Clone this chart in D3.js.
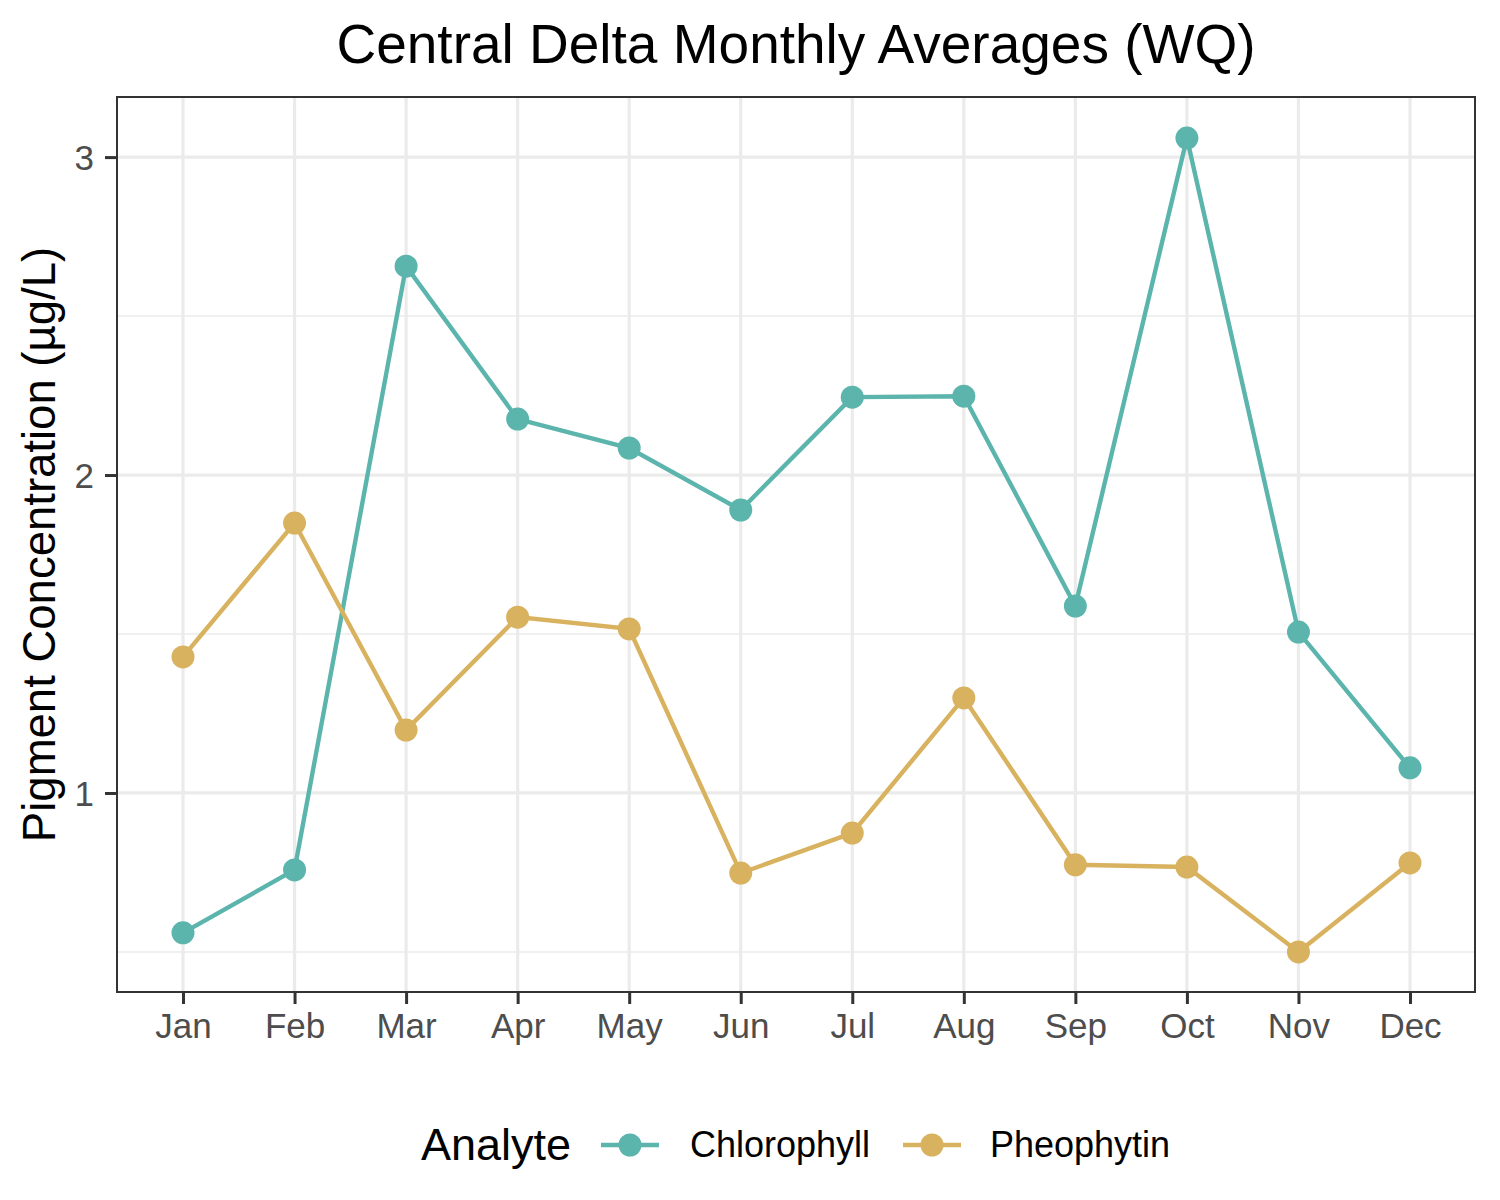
<!DOCTYPE html>
<html><head><meta charset="utf-8">
<script src="https://cdn.jsdelivr.net/npm/d3@7"></script>
<style>body{margin:0;background:#fff}svg{display:block}text{font-family:"Liberation Sans",Arial,sans-serif}</style>
</head><body>
<script>
const months = ["Jan","Feb","Mar","Apr","May","Jun","Jul","Aug","Sep","Oct","Nov","Dec"];
const chlorophyll = [0.560,0.758,2.657,2.176,2.085,1.890,2.245,2.248,1.588,3.060,1.506,1.079];
const pheophytin = [1.428,1.849,1.198,1.553,1.516,0.748,0.874,1.299,0.774,0.767,0.500,0.780];
const seriesNames = ["Chlorophyll","Pheophytin"];
const colors = ["#5BB5AC","#D8B25F"];
const yTicks = [1,2,3];
const yMinor = [0.5,1.5,2.5];

const W=1500,H=1200;
const m={l:117,r:1475,t:97,b:992};
const svg=d3.select("body").append("svg").attr("width",W).attr("height",H);
const x=d3.scalePoint().domain(months).range([183,1410]);
const y=d3.scaleLinear().domain([0.374,3.189]).range([m.b,m.t]);

const g=svg.append("g");
// grid
g.selectAll(".ymin").data(yMinor).join("line").attr("x1",m.l).attr("x2",m.r).attr("y1",d=>y(d)).attr("y2",d=>y(d)).attr("stroke","#EBEBEB").attr("stroke-width",1.6);
g.selectAll(".ymaj").data(yTicks).join("line").attr("x1",m.l).attr("x2",m.r).attr("y1",d=>y(d)).attr("y2",d=>y(d)).attr("stroke","#EBEBEB").attr("stroke-width",3.2);
g.selectAll(".xmaj").data(months).join("line").attr("x1",d=>x(d)).attr("x2",d=>x(d)).attr("y1",m.t).attr("y2",m.b).attr("stroke","#EBEBEB").attr("stroke-width",3.2);

// series
const data=[chlorophyll,pheophytin];
const line=d3.line().x((d,i)=>x(months[i])).y(d=>y(d));
data.forEach((s,k)=>{
  svg.append("path").datum(s).attr("d",line).attr("fill","none").attr("stroke",colors[k]).attr("stroke-width",4.4);
  svg.selectAll(".pt"+k).data(s).join("circle").attr("cx",(d,i)=>x(months[i])).attr("cy",d=>y(d)).attr("r",11.5).attr("fill",colors[k]);
});

// panel border
svg.append("rect").attr("x",m.l).attr("y",m.t).attr("width",m.r-m.l).attr("height",m.b-m.t).attr("fill","none").attr("stroke","#333333").attr("stroke-width",2);

// axes
const xa=svg.append("g").attr("transform",`translate(0,${m.b})`).call(d3.axisBottom(x).tickSize(12).tickPadding(10));
const ya=svg.append("g").attr("transform",`translate(${m.l},0)`).call(d3.axisLeft(y).tickValues(yTicks).tickFormat(d3.format("d")).tickSize(12).tickPadding(11));
[xa,ya].forEach(a=>{a.select(".domain").remove();a.selectAll("line").attr("stroke","#333333").attr("stroke-width",3);a.selectAll("text").attr("fill","#4D4D4D").style("font-size","35px").style("font-family",'"Liberation Sans",Arial,sans-serif');});
xa.selectAll("text").attr("y",46).attr("dy",0);
ya.selectAll("text").attr("dy","0.36em");

// title
svg.append("text").attr("x",(m.l+m.r)/2).attr("y",63).attr("text-anchor","middle").style("font-size","55px").attr("fill","#000").text("Central Delta Monthly Averages (WQ)");
svg.append("text").attr("transform",`translate(55,${(m.t+m.b)/2}) rotate(-90)`).attr("text-anchor","middle").style("font-size","45.5px").attr("fill","#000").text("Pigment Concentration (µg/L)");

// legend
const lg=svg.append("g");
lg.append("text").attr("x",421).attr("y",1160).style("font-size","45px").attr("fill","#000").text("Analyte");
const keyX=[601,903], labX=[690,990];
seriesNames.forEach((n,k)=>{
  lg.append("line").attr("x1",keyX[k]).attr("x2",keyX[k]+58).attr("y1",1145).attr("y2",1145).attr("stroke",colors[k]).attr("stroke-width",4.4);
  lg.append("circle").attr("cx",keyX[k]+29).attr("cy",1145).attr("r",11.5).attr("fill",colors[k]);
  lg.append("text").attr("x",labX[k]).attr("y",1157).style("font-size","36px").attr("fill","#000").text(n);
});
</script>
</body></html>
